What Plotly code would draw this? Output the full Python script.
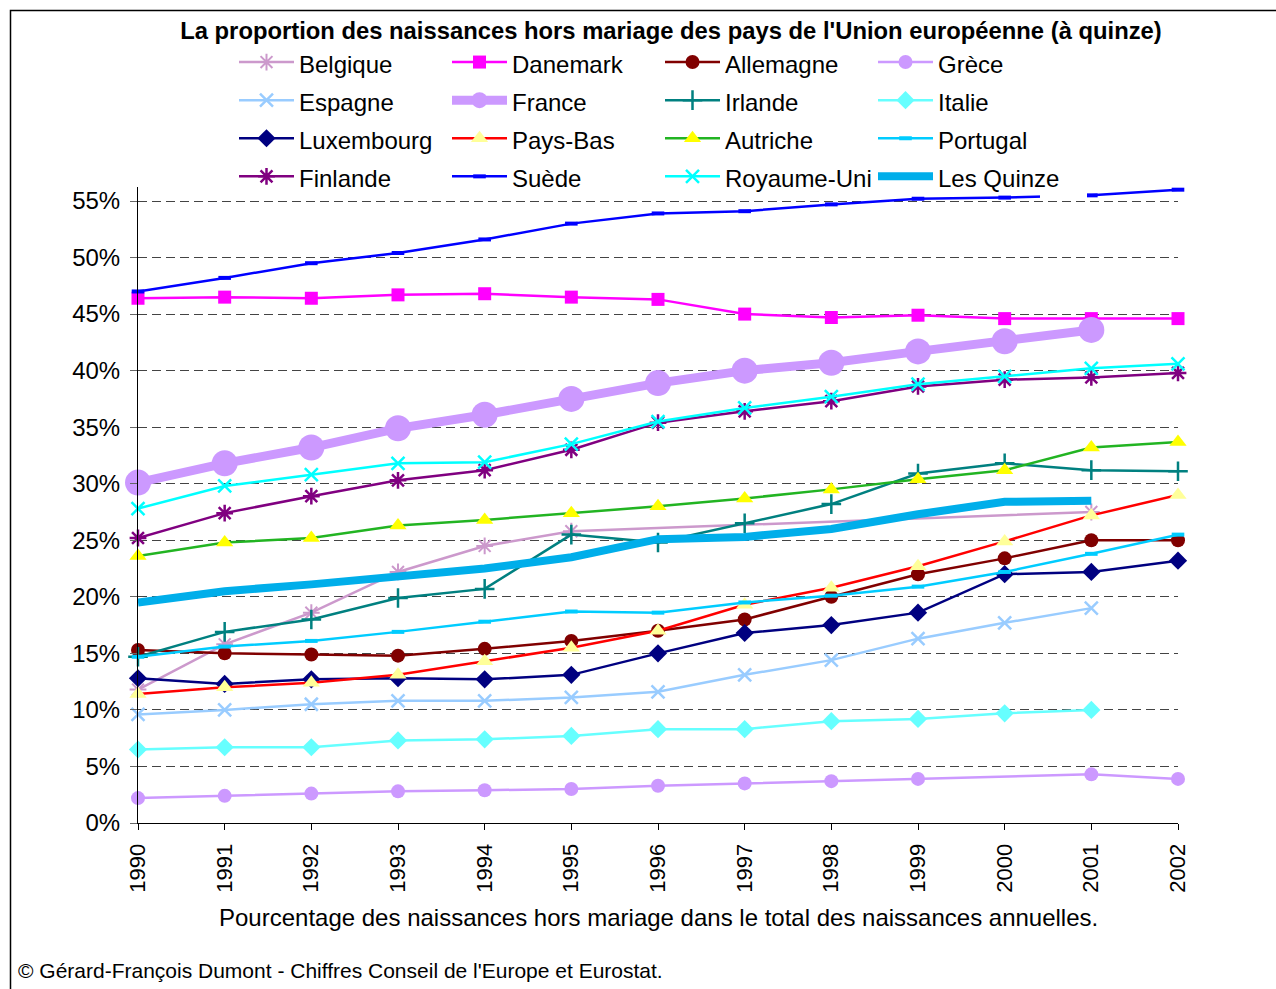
import plotly.graph_objects as go

years = list(range(1990, 2003))
belgique = [11.8, 15.8, 18.6, 22.2, 24.5, 25.8, None, None, None, None, None, 27.5, None]
danemark = [46.4, 46.5, 46.4, 46.7, 46.8, 46.5, 46.3, 45.0, 44.7, 44.9, 44.6, 44.6, 44.6]
allemagne = [15.3, 15.0, 14.9, 14.8, 15.4, 16.1, 17.0, 18.0, 20.0, 22.0, 23.4, 25.0, 25.0]
grece = [2.2, 2.4, 2.6, 2.8, 2.9, 3.0, 3.3, 3.5, 3.7, 3.9, None, 4.3, 3.9]
espagne = [9.6, 10.0, 10.5, 10.8, 10.8, 11.1, 11.6, 13.1, 14.4, 16.3, 17.7, 19.0, None]
france = [30.1, 31.8, 33.2, 34.9, 36.1, 37.5, 38.9, 40.0, 40.7, 41.7, 42.6, 43.6, None]
irlande = [14.7, 16.9, 18.0, 19.9, 20.7, 25.5, 24.8, 26.5, 28.2, 30.9, 31.8, 31.2, 31.1]
italie = [6.5, 6.7, 6.7, 7.3, 7.4, 7.7, 8.3, 8.3, 9.0, 9.2, 9.7, 10.0, None]
luxembourg = [12.8, 12.3, 12.7, 12.8, 12.7, 13.1, 15.0, 16.8, 17.5, 18.6, 22.0, 22.2, 23.2]
pays_bas = [11.4, 12.0, 12.4, 13.1, 14.3, 15.5, 17.0, 19.3, 20.8, 22.7, 24.9, 27.2, 29.0]
autriche = [23.6, 24.8, 25.2, 26.3, 26.8, 27.4, 28.0, 28.7, 29.5, 30.4, 31.2, 33.2, 33.7]
portugal = [14.7, 15.6, 16.1, 16.9, 17.8, 18.7, 18.6, 19.5, 20.1, 20.9, 22.2, 23.8, 25.5]
finlande = [25.2, 27.4, 28.9, 30.3, 31.2, 33.0, 35.4, 36.4, 37.3, 38.6, 39.2, 39.4, 39.8]
suede = [47.0, 48.2, 49.5, 50.4, 51.6, 53.0, 53.9, 54.1, 54.7, 55.2, 55.3, 55.5, 56.0]
royaume_uni = [27.8, 29.8, 30.8, 31.8, 31.9, 33.5, 35.5, 36.7, 37.7, 38.8, 39.5, 40.2, 40.6]
les_quinze = [19.5, 20.5, 21.1, 21.8, 22.5, 23.5, 25.1, 25.3, 26.0, 27.3, 28.4, 28.5, None]

series_names = ["Belgique", "Danemark", "Allemagne", "Grèce", "Espagne", "France", "Irlande",
                "Italie", "Luxembourg", "Pays-Bas", "Autriche", "Portugal", "Finlande", "Suède",
                "Royaume-Uni", "Les Quinze"]
series_values = [belgique, danemark, allemagne, grece, espagne, france, irlande, italie,
                 luxembourg, pays_bas, autriche, portugal, finlande, suede, royaume_uni, les_quinze]
year_labels = [str(y) for y in years]
y_ticks = list(range(0, 56, 5))
y_tick_labels = [f"{v}%" for v in y_ticks]

title_text = "La proportion des naissances hors mariage des pays de l'Union européenne (à quinze)"
xtitle_text = "Pourcentage des naissances hors mariage dans le total des naissances annuelles."
footer_text = "© Gérard-François Dumont - Chiffres Conseil de l'Europe et Eurostat."

# style: (line color, line width, marker symbol, marker size, marker color, marker line width)
styles = {
    "Belgique": ("#CC99CC", 2.5, "asterisk-open", 14, "#CC99CC", 2),
    "Danemark": ("#FF00FF", 2.5, "square", 13, "#FF00FF", 0),
    "Allemagne": ("#800000", 2.5, "circle", 14, "#800000", 0),
    "Grèce": ("#CC99FF", 2.5, "circle", 14, "#CC99FF", 0),
    "Espagne": ("#99CCFF", 2.5, "x-thin-open", 13, "#99CCFF", 2.5),
    "France": ("#CC99FF", 9, "circle", 26, "#CC99FF", 0),
    "Irlande": ("#008080", 2.5, "cross-thin-open", 14, "#008080", 2.5),
    "Italie": ("#66FFFF", 2.5, "diamond", 14, "#66FFFF", 0),
    "Luxembourg": ("#000080", 2.5, "diamond", 14, "#000080", 0),
    "Pays-Bas": ("#FF0000", 2.5, "triangle-up", 15, "#FFFF99", 0),
    "Autriche": ("#22B422", 2.5, "triangle-up", 15, "#FFFF00", 0),
    "Portugal": ("#00CCFF", 2.5, "line-ew-open", 9, "#00CCFF", 4),
    "Finlande": ("#800080", 2.5, "asterisk-open", 14, "#800080", 2.5),
    "Suède": ("#0000FF", 2.5, "line-ew-open", 9, "#0000FF", 4),
    "Royaume-Uni": ("#00FFFF", 2.5, "x-thin-open", 13, "#00FFFF", 2.5),
    "Les Quinze": ("#00AEEA", 8, None, 0, "#00AEEA", 0),
}

W, H = 1276, 989
PL, PR, PT, PB = 138, 1178, 187, 823
Y_MAX = (PB - PT) / ((PB - 201) / 55.0)

def px_x(px):
    return (px - PL) / (PR - PL)

def px_y(py):
    return (PB - py) / (PB - PT)

FONT = "Arial, Liberation Sans, sans-serif"

fig = go.Figure()
for name, vals in zip(series_names, series_values):
    lc, lw, sym, ms, mc, mlw = styles[name]
    label = '<span style="font-size:24px">' + name + '</span>'
    if sym is None:
        fig.add_trace(go.Scatter(x=years, y=vals, name=label, mode="lines",
                                 line=dict(color=lc, width=lw), connectgaps=True,
                                 cliponaxis=False))
    else:
        marker = dict(symbol=sym, size=ms, color=mc)
        if sym.endswith("open"):
            marker["line"] = dict(color=mc, width=mlw)
        else:
            marker["line"] = dict(width=0)
        fig.add_trace(go.Scatter(x=years, y=vals, name=label, mode="lines+markers",
                                 line=dict(color=lc, width=lw), marker=marker,
                                 connectgaps=True, cliponaxis=False))

fig.update_layout(
    width=W, height=H,
    margin=dict(l=PL, r=W - PR, t=PT, b=H - PB, pad=0),
    paper_bgcolor="white", plot_bgcolor="white",
    font=dict(family=FONT, color="black"),
    showlegend=True,
    title=dict(text="<b>" + title_text + "</b>", x=671 / W, xanchor="center",
               y=1 - 31 / H, yanchor="middle", font=dict(size=23.8, family=FONT, color="black")),
    legend=dict(orientation="h", x=px_x(234), xanchor="left", y=px_y(38), yanchor="top",
                bgcolor="rgba(0,0,0,0)", borderwidth=0, font=dict(size=27, family=FONT),
                entrywidth=143, entrywidthmode="pixels", itemwidth=55,
                traceorder="normal", itemclick=False),
    xaxis=dict(range=[1990, 2002], tickmode="array", tickvals=years, ticktext=year_labels,
               tickangle=-90, showgrid=False, showline=True, linecolor="black", linewidth=1,
               ticks="outside", ticklen=6, tickcolor="black", tickfont=dict(size=22, family=FONT),
               ticklabelstandoff=5, zeroline=False, fixedrange=True),
    yaxis=dict(range=[0, Y_MAX], tickmode="array", tickvals=y_ticks, ticktext=y_tick_labels,
               showgrid=True, gridcolor="#444444", gridwidth=1, griddash="9px,5px",
               showline=True, linecolor="black", linewidth=1, ticks="outside", ticklen=7,
               tickcolor="#666666", tickfont=dict(size=24, family=FONT), ticklabelstandoff=5,
               zeroline=False, fixedrange=True),
    shapes=[
        dict(type="rect", xref="paper", yref="paper",
             x0=px_x(10.5), x1=px_x(W + 20), y0=px_y(H + 20), y1=px_y(10.5),
             line=dict(color="black", width=1.5), fillcolor="rgba(0,0,0,0)", layer="below"),
        dict(type="rect", xref="paper", yref="paper",
             x0=px_x(1040), x1=px_x(1087), y0=px_y(198.5), y1=px_y(150),
             line=dict(width=0), fillcolor="white", layer="above"),
    ],
    annotations=[
        dict(text=xtitle_text, xref="paper", yref="paper", x=px_x(658), y=px_y(917),
             xanchor="center", yanchor="middle", showarrow=False,
             font=dict(size=24, family=FONT, color="black")),
        dict(text=footer_text, xref="paper", yref="paper", x=px_x(16), y=px_y(970),
             xanchor="left", yanchor="middle", showarrow=False,
             font=dict(size=21, family=FONT, color="black")),
    ],
)

fig.write_html("out.html", post_script="document.body.style.margin='0';",
               config={"displayModeBar": False})
